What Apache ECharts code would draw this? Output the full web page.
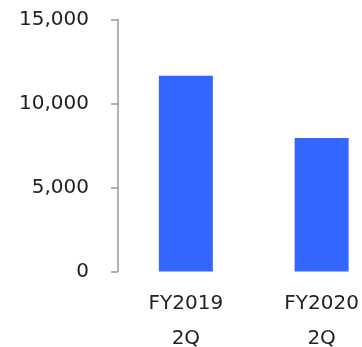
<!DOCTYPE html>
<html>
<head>
<meta charset="utf-8">
<script src="https://cdn.jsdelivr.net/npm/echarts@6/dist/echarts.min.js"></script>
<style>
  html, body { margin: 0; padding: 0; background: #fff; }
  #chart { width: 362px; height: 347px; }
</style>
</head>
<body>
<div id="chart"></div>
<script>
// Half-year totals by fiscal period
const categories = ['FY2019\n2Q', 'FY2020\n2Q'];
const values = [11650, 7950];
const yTicks = [0, 5000, 10000, 15000];

const chart = echarts.init(document.getElementById('chart'), null, { renderer: 'canvas' });

chart.setOption({
  animation: false,
  textStyle: { fontFamily: 'DejaVu Sans' },
  grid: {
    left: 118, top: 19.5, width: 271.5, bottom: 75.5,
    containLabel: false,
    outerBoundsMode: 'none'
  },
  xAxis: {
    type: 'category',
    data: categories,
    axisLine: { show: false },
    axisTick: { show: false },
    axisLabel: {
      color: '#222',
      fontSize: 20,
      fontFamily: 'DejaVu Sans',
      lineHeight: 35,
      margin: 15
    }
  },
  yAxis: {
    type: 'value',
    min: yTicks[0],
    max: yTicks[yTicks.length - 1],
    interval: yTicks[1] - yTicks[0],
    splitLine: { show: false },
    axisLine: { show: true, lineStyle: { color: '#9a9a9a', width: 1.5 } },
    axisTick: { show: true, length: 7, lineStyle: { color: '#9a9a9a', width: 1.5 } },
    axisLabel: {
      color: '#222',
      fontSize: 20,
      fontFamily: 'DejaVu Sans',
      margin: 29,
      formatter: v => v.toLocaleString('en-US')
    }
  },
  series: [{
    type: 'bar',
    data: values,
    barWidth: 54,
    itemStyle: { color: '#3366ff' }
  }]
});
</script>
</body>
</html>
